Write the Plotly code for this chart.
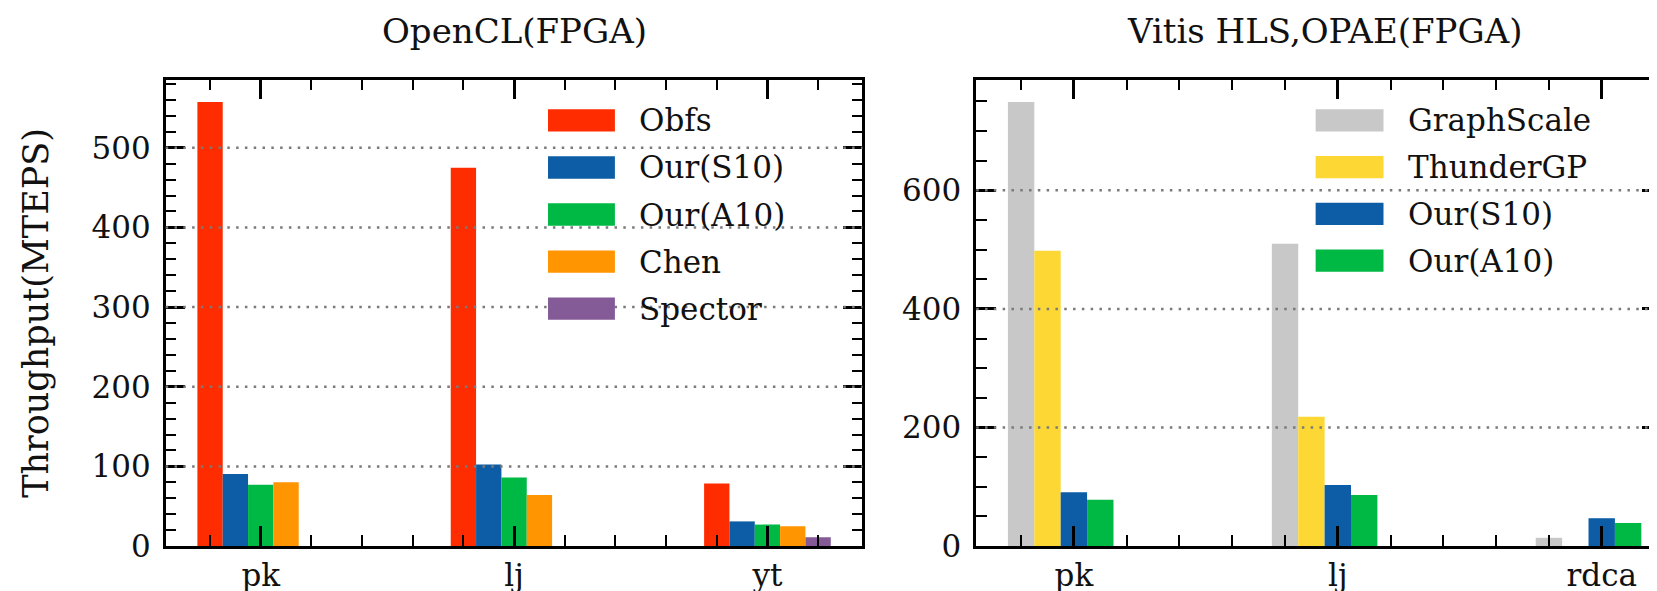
import plotly.graph_objects as go

# ---------------- data ----------------
left_categories = ["pk", "lj", "yt"]
left_series = ["Obfs", "Our(S10)", "Our(A10)", "Chen", "Spector"]
obfs = [557.5, 475.0, 78.5]
our_s10_left = [90.5, 102.5, 31.0]
our_a10_left = [77.0, 86.0, 27.0]
chen = [80.0, 64.0, 25.0]
spector = [None, None, 11.0]

right_categories = ["pk", "lj", "rdca"]
right_series = ["GraphScale", "ThunderGP", "Our(S10)", "Our(A10)"]
graphscale = [749.0, 510.0, 14.0]
thundergp = [498.0, 218.0, None]
our_s10_right = [91.0, 103.0, 47.0]
our_a10_right = [78.0, 86.0, 39.0]

left_yticks = [0, 100, 200, 300, 400, 500]
right_yticks = [0, 200, 400, 600]

left_title = "OpenCL(FPGA)"
right_title = "Vitis HLS,OPAE(FPGA)"
y_title = "Throughput(MTEPS)"

# ---------------- style ----------------
W, H = 1657, 591
FONT = "DejaVu Serif"
TXT = "#111111"
left_colors = ["#FF2C00", "#0C5DA5", "#00B945", "#FF9500", "#845B97"]
right_colors = ["#C8C8C8", "#FDD835", "#0C5DA5", "#00B945"]
BAR_W = 0.1

# pixel layout of the two plot areas
L_X0, L_X1 = 158, 856
R_X0, R_X1_FULL = 970, 1668
Y_TOP, Y_BOT = 74, 555


def px_x(p):
    return p / W


def px_y(p):
    return (H - p) / H


fig = go.Figure()

left_vals = [obfs, our_s10_left, our_a10_left, chen, spector]
right_vals = [graphscale, thundergp, our_s10_right, our_a10_right]

xs_left = list(range(len(left_categories)))
xs_right = list(range(len(right_categories)))

for k, (name, vals) in enumerate(zip(left_series, left_vals)):
    fig.add_trace(go.Bar(
        x=xs_left, y=vals, name=name, width=BAR_W, offset=-0.25 + BAR_W * k,
        marker=dict(color=left_colors[k], line=dict(width=0)),
        xaxis="x", yaxis="y", showlegend=False))

for k, (name, vals) in enumerate(zip(right_series, right_vals)):
    fig.add_trace(go.Bar(
        x=xs_right, y=vals, name=name, width=BAR_W, offset=-0.25 + BAR_W * k,
        marker=dict(color=right_colors[k], line=dict(width=0)),
        xaxis="x2", yaxis="y2", showlegend=False))

# axis ranges (matplotlib-like margins)
left_xr = [-0.375, len(left_categories) - 1 + 0.375]
right_full = [-0.37, len(right_categories) - 1 + 0.27]
frac = (W - R_X0) / (R_X1_FULL - R_X0)
right_xr = [right_full[0], right_full[0] + (right_full[1] - right_full[0]) * frac]

left_ymax = max(v for s in left_vals for v in s if v is not None) * 1.05
right_ymax = max(v for s in right_vals for v in s if v is not None) * 1.05

tickfont = dict(family=FONT, size=31, color=TXT)
common_axis = dict(showline=True, linecolor="black", linewidth=2.5, mirror="ticks",
                   ticks="inside", ticklen=20, tickwidth=2.5, tickcolor="black",
                   showgrid=False, zeroline=False, tickfont=tickfont, fixedrange=True)

ydom = [px_y(Y_BOT), px_y(Y_TOP)]

fig.update_layout(
    width=W, height=H, autosize=False,
    margin=dict(l=0, r=0, t=0, b=0),
    paper_bgcolor="white", plot_bgcolor="white",
    barmode="overlay", showlegend=False,
    xaxis=dict(domain=[px_x(L_X0), px_x(L_X1)], range=left_xr, tickmode="array",
               tickvals=xs_left, ticktext=left_categories, anchor="y",
               minor=dict(ticks="inside", ticklen=11, tickwidth=2.2, tickcolor="black",
                          dtick=0.2, tick0=0),
               **common_axis),
    yaxis=dict(domain=ydom, range=[0, left_ymax], tickmode="array", tickvals=left_yticks,
               anchor="x", ticklabelstandoff=6,
               minor=dict(ticks="inside", ticklen=11, tickwidth=2.2, tickcolor="black",
                          dtick=20, tick0=0),
               **common_axis),
    xaxis2=dict(domain=[px_x(R_X0), 1.0], range=right_xr, tickmode="array",
                tickvals=xs_right, ticktext=right_categories, anchor="y2",
                minor=dict(ticks="inside", ticklen=11, tickwidth=2.2, tickcolor="black",
                           dtick=0.2, tick0=0),
                **common_axis),
    yaxis2=dict(domain=ydom, range=[0, right_ymax], tickmode="array", tickvals=right_yticks,
                anchor="x2", ticklabelstandoff=6,
                minor=dict(ticks="inside", ticklen=11, tickwidth=2.2, tickcolor="black",
                           dtick=50, tick0=0),
                **common_axis),
)

shapes = []
GRID = dict(color="#7a7a7a", width=2.5, dash="2.5px,6.3px")
for v in left_yticks[1:]:
    shapes.append(dict(type="line", xref="x domain", yref="y", x0=0, x1=1, y0=v, y1=v,
                       line=GRID, layer="above"))
for v in right_yticks[1:]:
    shapes.append(dict(type="line", xref="x2 domain", yref="y2", x0=0, x1=1, y0=v, y1=v,
                       line=GRID, layer="above"))

annotations = []
legend_font = dict(family=FONT, size=31, color=TXT)


def add_legend(names, colors, px0, px1, text_x, y_first, step):
    for i, (n, c) in enumerate(zip(names, colors)):
        yc = y_first + step * i
        shapes.append(dict(type="rect", xref="paper", yref="paper",
                           x0=px_x(px0), x1=px_x(px1), y0=px_y(yc + 11.5), y1=px_y(yc - 11.5),
                           fillcolor=c, line=dict(width=0), layer="above"))
        annotations.append(dict(text=n, xref="paper", yref="paper", x=px_x(text_x), y=px_y(yc),
                                xanchor="left", yanchor="middle", showarrow=False,
                                font=legend_font))


add_legend(left_series, left_colors, 541, 608, 630, 116, 48.5)
add_legend(right_series, right_colors, 1310, 1378, 1401, 116, 48.2)

title_font = dict(family=FONT, size=34, color=TXT)
annotations.append(dict(text=left_title, xref="paper", yref="paper",
                        x=px_x((L_X0 + L_X1) / 2), y=px_y(1), xanchor="center", yanchor="top",
                        showarrow=False, font=title_font))
annotations.append(dict(text=right_title, xref="paper", yref="paper",
                        x=px_x((R_X0 + R_X1_FULL) / 2), y=px_y(1), xanchor="center",
                        yanchor="top", showarrow=False, font=title_font))
annotations.append(dict(text=y_title, xref="paper", yref="paper",
                        x=px_x(28), y=px_y((Y_TOP + Y_BOT) / 2), xanchor="center",
                        yanchor="middle", textangle=-90, showarrow=False,
                        font=dict(family=FONT, size=35, color=TXT)))

fig.update_layout(shapes=shapes, annotations=annotations)

fig.write_html("out.html")
